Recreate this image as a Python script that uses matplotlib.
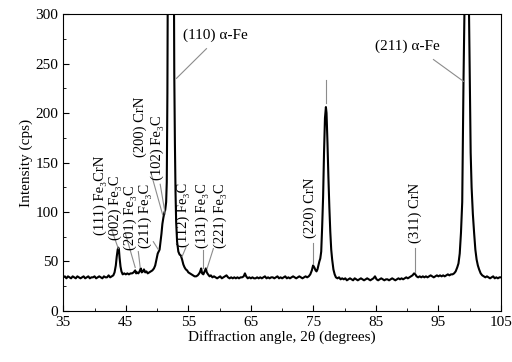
import numpy as np
from matplotlib import pyplot as plt

plt.rcParams['font.family'] = ['Liberation Serif', 'DejaVu Serif']

# XRD pattern (2theta in degrees, intensity in cps)
two_theta = [
    35.0, 35.25, 35.5, 35.75, 36.0, 36.25, 36.5, 36.75, 37.0, 37.25, 37.5, 37.75,
    38.0, 38.25, 38.5, 38.75, 39.0, 39.25, 39.5, 39.75, 40.0, 40.25, 40.5, 40.75,
    41.0, 41.25, 41.5, 41.75, 42.0, 42.25, 42.5, 42.75,
    43.0, 43.2, 43.4, 43.55, 43.7, 43.8, 43.9, 44.0, 44.15, 44.3, 44.5, 44.75,
    45.0, 45.25, 45.5, 45.75, 46.0, 46.25, 46.5, 46.65, 46.8, 47.0, 47.2, 47.4,
    47.55, 47.75, 47.9, 48.1, 48.3, 48.5, 48.75, 49.0, 49.25, 49.5, 49.7, 49.9,
    50.1, 50.25, 50.4, 50.55, 50.7, 50.85, 51.0, 51.15, 51.3, 51.45, 51.55, 51.65,
    51.75, 51.9, 52.2, 52.5, 52.65, 52.75, 52.85, 52.95, 53.05, 53.2, 53.4, 53.6,
    53.8, 54.0, 54.2, 54.4, 54.6, 54.8, 55.0, 55.25, 55.5, 55.75, 56.0, 56.25,
    56.5, 56.75, 56.9, 57.05, 57.2, 57.4, 57.6, 57.8, 57.95, 58.15, 58.4, 58.6,
    58.85, 59.1, 59.35, 59.6, 59.85, 60.1, 60.35, 60.6, 60.85, 61.1, 61.35, 61.6,
    61.85, 62.1, 62.35, 62.6, 62.85, 63.1, 63.35, 63.6, 63.85, 64.05, 64.25, 64.5,
    64.75, 65.0, 65.25, 65.5, 65.75, 66.0, 66.25, 66.5, 66.75, 67.0, 67.25, 67.5,
    67.75, 68.0, 68.25, 68.5, 68.75, 69.0, 69.25, 69.5, 69.75, 70.0, 70.25, 70.5,
    70.75, 71.0, 71.25, 71.5, 71.75, 72.0, 72.25, 72.5, 72.75, 73.0, 73.25, 73.5,
    73.75, 74.0, 74.25, 74.5, 74.75, 74.95, 75.15, 75.35, 75.5, 75.65, 75.8, 75.95,
    76.1, 76.25, 76.4, 76.55, 76.7, 76.85, 77.0, 77.1, 77.25, 77.4, 77.55, 77.7,
    77.85, 78.0, 78.2, 78.4, 78.6, 78.85, 79.1, 79.35, 79.6, 79.85, 80.1, 80.35,
    80.6, 80.85, 81.1, 81.35, 81.6, 81.85, 82.1, 82.35, 82.6, 82.85, 83.1, 83.35,
    83.6, 83.85, 84.1, 84.35, 84.6, 84.85, 85.1, 85.35, 85.6, 85.85, 86.1, 86.35,
    86.6, 86.85, 87.1, 87.35, 87.6, 87.85, 88.1, 88.35, 88.6, 88.85, 89.1, 89.35,
    89.6, 89.85, 90.1, 90.35, 90.6, 90.85, 91.1, 91.3, 91.5, 91.75, 92.0, 92.25,
    92.5, 92.75, 93.0, 93.25, 93.5, 93.75, 94.0, 94.25, 94.5, 94.75, 95.0, 95.25,
    95.5, 95.75, 96.0, 96.25, 96.5, 96.75, 97.0, 97.25, 97.5, 97.75, 98.0, 98.2,
    98.4, 98.6, 98.8, 99.0, 99.15, 99.3, 99.5, 99.7, 99.85, 100.0, 100.15, 100.3,
    100.5, 100.7, 100.9, 101.1, 101.3, 101.5, 101.75, 102.0, 102.25, 102.5, 102.75, 103.0,
    103.25, 103.5, 103.75, 104.0, 104.25, 104.5, 104.75, 105.0,
]
intensity = [
    34, 35, 33, 35, 34, 33, 35, 34, 33, 35, 34, 33,
    34, 35, 33, 34, 35, 33, 34, 34, 35, 33, 34, 35,
    34, 33, 35, 34, 34, 36, 34, 35,
    36, 39, 46, 55, 62, 64, 62, 54, 45, 40, 37, 38,
    37, 38, 37, 38, 38, 39, 41, 38, 39, 38, 40, 43,
    39, 40, 42, 39, 40, 38, 39, 40, 41, 43, 46, 52,
    58, 60, 62, 70, 78, 88, 94, 99, 102, 110, 130, 220,
    400, 900, 1500, 900, 400, 240, 170, 120, 90, 70, 60, 57,
    56, 52, 47, 44, 42, 41, 39, 38, 37, 36, 35, 35,
    36, 38, 40, 43, 38, 37, 40, 43, 39, 37, 35, 36,
    34, 35, 34, 33, 34, 35, 33, 34, 35, 36, 34, 33,
    34, 33, 34, 33, 34, 33, 34, 34, 35, 38, 35, 33,
    34, 33, 34, 33, 33, 34, 33, 34, 33, 34, 35, 33,
    34, 33, 34, 34, 33, 34, 35, 33, 34, 33, 34, 35,
    33, 34, 33, 34, 35, 34, 33, 34, 35, 34, 33, 34,
    35, 34, 35, 37, 41, 46, 44, 41, 40, 42, 46, 50,
    53, 60, 85, 115, 160, 195, 206, 200, 170, 135, 105, 80,
    62, 52, 42, 37, 34, 33, 34, 32, 33, 32, 33, 31,
    32, 33, 32, 31, 33, 32, 31, 32, 33, 32, 31, 32,
    33, 32, 31, 32, 33, 35, 32, 31, 32, 33, 32, 31,
    32, 32, 31, 32, 33, 32, 31, 32, 33, 32, 33, 32,
    33, 34, 33, 34, 35, 36, 38, 37, 35, 34, 35, 34,
    35, 34, 35, 34, 35, 36, 35, 34, 35, 36, 35, 36,
    35, 36, 35, 36, 37, 36, 37, 37, 38, 40, 44, 48,
    58, 79, 110, 230, 300, 600, 900, 600, 320, 240, 160, 125,
    98, 79, 62, 52, 46, 42, 38, 36, 35, 34, 35, 34,
    33, 34, 35, 33, 34, 33, 34, 34,
]

# rotated peak labels: text, centre 2theta, bottom intensity
peak_labels = ["(111) Fe₃CrN", "(002) Fe₃C", "(201) Fe₃C", "(211) Fe₃C",
               "(200) CrN", "(102) Fe₃C", "(112) Fe₃C", "(131) Fe₃C",
               "(221) Fe₃C", "(220) CrN", "(311) CrN"]
label_x = [40.85, 43.3, 45.7, 48.1, 47.3, 49.95, 54.2, 57.3, 60.1, 74.55, 91.35]
label_y = [77, 72, 62, 64, 156, 132, 65, 64, 64, 74, 69]

# leader lines (x0, y0, x1, y1)
leaders = [
    (42.74, 82, 43.8, 63), (44.9, 79, 46.5, 44), (47.0, 60, 47.3, 44),
    (49.4, 70, 50.2, 62), (49.0, 140, 50.9, 97), (50.5, 128, 51.3, 98),
    (54.6, 64, 54.0, 55), (57.3, 62, 57.3, 43), (59.0, 63, 58.0, 43),
    (75.0, 69, 75.0, 47), (91.2, 64, 91.2, 39),
    (57.9, 265, 53.1, 235), (94.2, 254, 99.0, 232), (77.0, 233, 77.0, 210),
]

fig = plt.figure(figsize=(5.12, 3.62), dpi=100)
ax = fig.add_axes([0.1236, 0.1409, 0.8549, 0.8204])

ax.plot(two_theta, intensity, color="black", linewidth=1.5)

for x0, y0, x1, y1 in leaders:
    ax.plot([x0, x1], [y0, y1], color="#8c8c8c", linewidth=0.8)

for text, x, y in zip(peak_labels, label_x, label_y):
    ax.text(x, y, text, rotation=90, ha="center", va="bottom", fontsize=10.5)

ax.text(54.15, 279, "(110) α-Fe", ha="left", va="center", fontsize=11)
ax.text(84.9, 267, "(211) α-Fe", ha="left", va="center", fontsize=11)

ax.set_xlim(35, 105)
ax.set_ylim(0, 300)
ax.set_xticks(np.arange(35, 106, 10))
ax.set_xticks(np.arange(40, 105, 10), minor=True)
ax.set_yticks(np.arange(0, 301, 50))
ax.set_yticks(np.arange(25, 300, 50), minor=True)
ax.tick_params(which="both", direction="in", labelsize=11)
ax.tick_params(which="major", length=4)
ax.tick_params(which="minor", length=2)
ax.set_xlabel("Diffraction angle, 2θ (degrees)", fontsize=11, labelpad=1)
ax.set_ylabel("Intensity (cps)", fontsize=11, labelpad=2)

fig.savefig("out.png", dpi=100)
